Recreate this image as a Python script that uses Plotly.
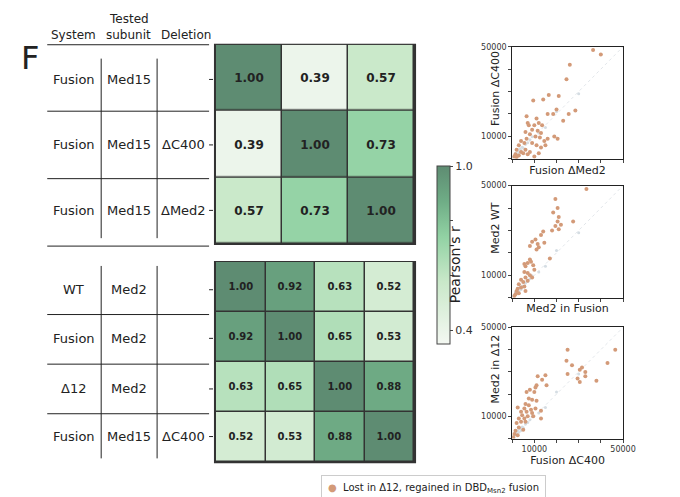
import plotly.graph_objects as go

W, H = 680, 497

def px(x):
    return x / W

def py(y):
    return 1 - y / H

# heatmap data
top_vals = [[1.00, 0.39, 0.57],
            [0.39, 1.00, 0.73],
            [0.57, 0.73, 1.00]]
top_rows = [("Fusion", "Med15", ""), ("Fusion", "Med15", "ΔC400"), ("Fusion", "Med15", "ΔMed2")]

bot_vals = [[1.00, 0.92, 0.63, 0.52],
            [0.92, 1.00, 0.65, 0.53],
            [0.63, 0.65, 1.00, 0.88],
            [0.52, 0.53, 0.88, 1.00]]
bot_rows = [("WT", "Med2", ""), ("Fusion", "Med2", ""), ("Δ12", "Med2", ""), ("Fusion", "Med15", "ΔC400")]

# scatter data (highlighted genes)
s1_x = [36500, 40000, 26000, 24500, 21000, 16500, 14000, 9500, 20000, 25500, 28500, 16000, 18500, 6500, 11000,
        12000, 7000, 23000, 10000, 13500, 7500, 9000, 11500, 13000, 19000, 20500, 6000, 8000, 10500, 12500, 16000,
        14500, 6500, 4000, 5500, 9000, 11000, 13000, 15000, 3000, 2000, 4000, 6000, 8000, 1500, 3000, 5000, 10000,
        12000, 1000, 2000, 7000]
s1_y = [48500, 46500, 42000, 35500, 28000, 28500, 26500, 26000, 22000, 20000, 21500, 20000, 20000, 19000, 18000,
        16000, 16000, 17000, 15000, 15000, 15000, 13000, 12500, 11500, 10000, 9000, 12000, 11000, 10000, 9500, 9000,
        8000, 9000, 8000, 7000, 7000, 6000, 5000, 6000, 6000, 4000, 3000, 4000, 3000, 2000, 1500, 2500, 1000,
        2500, 1000, 800, 2000]

s2_x = [33500, 19500, 20500, 18500, 21000, 20500, 27500, 22000, 19500, 21000, 18000, 14000, 13000, 10500, 9000,
        8000, 11500, 14500, 12000, 11000, 17000, 8000, 8500, 5500, 6000, 7000, 9500, 10000, 7000, 5500, 8000,
        9000, 6000, 4000, 5000, 3000, 7000, 2500, 4000, 2000, 5500, 1500, 3000, 1000, 6000]
s2_y = [48500, 44000, 40000, 38000, 36000, 34000, 34000, 32500, 32000, 30500, 30000, 29500, 28000, 26000, 25000,
        23000, 24000, 24500, 22500, 21500, 17500, 17000, 16000, 15000, 14000, 15500, 14500, 12500, 11000, 11500, 10000,
        9000, 9000, 8000, 7000, 6000, 7500, 4000, 4500, 3000, 5000, 1500, 2000, 800, 3000]

s3_x = [46500, 43000, 25000, 24500, 27000, 31500, 30500, 33000, 25000, 33000, 29500, 38000, 30500, 15000, 11500,
        13500, 11000, 10500, 8000, 6500, 10000, 15500, 7500, 9000, 11000, 6000, 7500, 2500, 5500, 8500, 10500,
        4000, 6500, 9000, 13000, 4500, 7000, 9500, 3000, 5500, 13000, 2000, 4000, 6000, 3000, 1500, 5000, 1000,
        2500, 500]
s3_y = [40000, 34000, 40000, 35000, 33000, 32000, 31000, 30000, 29000, 28000, 27000, 26000, 25500, 28500, 28000,
        26500, 24000, 23000, 22000, 21000, 21000, 24000, 18000, 17500, 17000, 15500, 15000, 14000, 13500, 13000, 13500,
        12000, 12000, 11500, 12500, 10500, 10000, 10000, 9000, 9000, 9000, 7000, 7500, 7500, 5000, 3500, 4000, 2000,
        1500, 500]

# background genes (grey)
bg_x = [500, 1000, 1500, 2000, 2500, 3000, 3500, 4000, 4500, 5000, 6000, 7000, 8000, 9000, 12000, 15000, 20000, 30000]
bg_y = [800, 1200, 2500, 1800, 3500, 2800, 4500, 3600, 5200, 4800, 6500, 7200, 8500, 9800, 11500, 14000, 21000, 29000]

scatters = [(s1_x, s1_y, "Fusion ΔC400", "Fusion ΔMed2", (35, 148), False),
            (s2_x, s2_y, "Med2 in Fusion", "Med2 WT", (175, 288), False),
            (s3_x, s3_y, "Fusion ΔC400", "Med2 in Δ12", (318, 430), True)]
scatters[0] = (s1_x, s1_y, "Fusion ΔMed2", "Fusion ΔC400", (35, 148), False)

green = [[0, "#f4f8f2"], [0.35, "#c9e8c9"], [0.6, "#92d2a4"], [0.8, "#6fad86"], [1, "#5e8c72"]]
zmin, zmax = 0.35, 1.0

fig = go.Figure()
shapes = []
ann = []

def heat(vals, ax, ay, y0, y1, fsize, showscale):
    n = len(vals)
    fig.add_trace(go.Heatmap(
        z=vals[::-1], x=list(range(n)), y=list(range(n)), xaxis=ax, yaxis=ay,
        colorscale=green, zmin=zmin, zmax=zmax, xgap=1.5, ygap=1.5,
        texttemplate="<b>%{z:.2f}</b>", textfont=dict(size=fsize, color="#222", family="DejaVu Sans"),
        showscale=showscale, hoverinfo="skip",
        colorbar=dict(x=px(427), xanchor="left", y=py(345), yanchor="bottom", len=200 / H,
                      thickness=13, outlinewidth=1, outlinecolor="#444",
                      tickvals=[0.4, 0.6, 0.8, 1.0], ticktext=["0.4", "", "", "1.0"],
                      ticks="outside", ticklen=3, tickfont=dict(size=11, color="#333"))))
    shapes.append(dict(type="rect", xref="paper", yref="paper", x0=px(211), x1=px(415),
                       y0=py(y1), y1=py(y0), fillcolor="#333", line=dict(color="#333", width=2), layer="below"))

heat(top_vals, "x", "y", 33, 234, 12, True)
heat(bot_vals, "x2", "y2", 252, 454, 10, False)

lay = dict(
    width=W, height=H, margin=dict(l=0, r=0, t=0, b=0), paper_bgcolor="white", plot_bgcolor="white",
    showlegend=False, font=dict(family="DejaVu Sans", color="#222"),
)
for nm, (y0, y1), n in [("", (33, 234), 3), ("2", (252, 454), 4)]:
    lay["xaxis" + nm] = dict(domain=[px(212), px(414)], range=[-0.5, n - 0.5], visible=False)
    lay["yaxis" + nm] = dict(domain=[py(y1), py(y0)], range=[-0.5, n - 0.5], visible=False)

# left table
def line(x0, y0, x1, y1):
    shapes.append(dict(type="line", xref="paper", yref="paper", x0=px(x0), x1=px(x1), y0=py(y0), y1=py(y1),
                       line=dict(color="#222", width=1)))

def text(x, y, s, size=13, angle=0):
    ann.append(dict(x=px(x), y=py(y), xref="paper", yref="paper", text=s, showarrow=False, textangle=angle,
                    xanchor="center", yanchor="middle", font=dict(size=size, color="#222")))

ticktext_on = ["", "10000", "", "", "", "50000"]
for i, (sx, sy, xl, yl, (y0, y1), xlab) in enumerate(scatters):
    k = str(i + 3)
    fig.add_trace(go.Scatter(x=[0, 50000], y=[0, 50000], mode="lines", xaxis="x" + k, yaxis="y" + k,
                             line=dict(color="#e2e6ea", width=1, dash="dot"), hoverinfo="skip"))
    fig.add_trace(go.Scatter(x=bg_x, y=bg_y, mode="markers", xaxis="x" + k, yaxis="y" + k,
                             marker=dict(size=3, color="#d5dde3"), hoverinfo="skip"))
    fig.add_trace(go.Scatter(x=sx, y=sy, mode="markers", xaxis="x" + k, yaxis="y" + k,
                             marker=dict(size=4, color="#d39a78"), hoverinfo="skip"))
    common = dict(range=[0, 50000], tickvals=[0, 10000, 20000, 30000, 40000, 50000], ticks="outside",
                  ticklen=3, showline=True, linecolor="#222", linewidth=1, mirror=True, showgrid=False,
                  zeroline=False, tickfont=dict(size=8, color="#333"))
    lay["xaxis" + k] = dict(common, domain=[px(514), px(627)], anchor="y" + k,
                            ticktext=ticktext_on if xlab else [""] * 6,
                            title=dict(text=xl, font=dict(size=11), standoff=2))
    lay["yaxis" + k] = dict(common, domain=[py(y1), py(y0)], anchor="x" + k, ticktext=ticktext_on)
    text(497, y0 + 42, yl, 11, -90)

text(456, 255, "Pearson's r", 14, -90)
text(22, 46, "F", 32)
text(67, 23, "System", 12)
text(123, 7, "Tested", 12)
text(123, 23, "subunit", 12)
text(181, 23, "Deletion", 12)
line(40, 33, 205, 33)
line(95, 47, 95, 228)
line(152, 47, 152, 228)
for yy in [100, 168, 236]:
    line(40, yy, 205, yy)
for r, yy in zip(top_rows, [68, 134, 200]):
    text(67, yy, r[0]); text(123, yy, r[1]); text(179, yy, r[2])
    line(205, yy, 209, yy)
line(95, 256, 95, 450)
line(152, 256, 152, 450)
for yy in [305, 355, 405]:
    line(40, yy, 205, yy)
for r, yy in zip(bot_rows, [280, 329, 380, 428]):
    text(67, yy, r[0]); text(123, yy, r[1]); text(179, yy, r[2])
    line(205, yy, 209, yy)

# legend box
ann.append(dict(x=px(319), y=py(480), xref="paper", yref="paper", showarrow=False, xanchor="left",
                yanchor="middle", bordercolor="#ccc", borderwidth=1, borderpad=6, bgcolor="white",
                text="<span style='color:#d39a78'>●</span>  Lost in Δ12, regained in DBD<sub>Msn2</sub> fusion",
                font=dict(size=10, color="#222")))

lay["shapes"] = shapes
lay["annotations"] = ann
fig.update_layout(**lay)
fig.write_html("out.html")
